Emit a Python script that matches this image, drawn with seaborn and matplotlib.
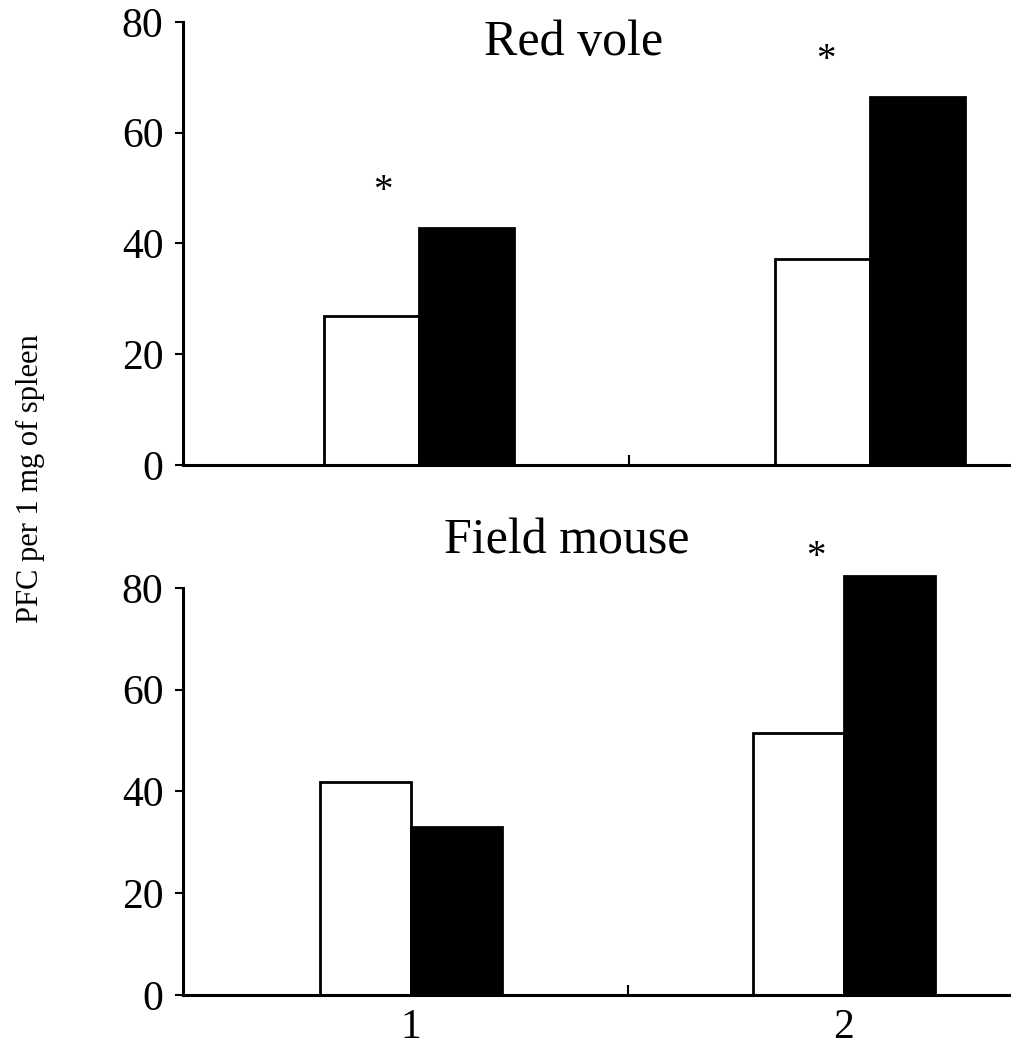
import matplotlib
matplotlib.use("Agg")
import matplotlib.pyplot as plt
import seaborn as sns
import pandas as pd

# ---- data ----
groups = ["1", "2"]
treatments = ["control", "treated"]
red_vole_control = [26.9, 37.2]
red_vole_treated = [42.8, 66.4]
field_mouse_control = [41.8, 51.5]
field_mouse_treated = [33.0, 82.3]
red_vole_sig = [True, True]
field_mouse_sig = [False, True]
y_ticks = [0, 20, 40, 60, 80]
titles = ["Red vole", "Field mouse"]
y_label = "PFC per 1 mg of spleen"

sns.set_theme(style="white")
plt.rcParams["font.family"] = ["Liberation Serif", "DejaVu Serif"]

W, H = 1011, 1049
fig = plt.figure(figsize=(W / 100, H / 100), dpi=100)

def make_df(ctrl, trt):
    rows = []
    for g, c, t in zip(groups, ctrl, trt):
        rows.append({"group": g, "treatment": treatments[0], "value": c})
        rows.append({"group": g, "treatment": treatments[1], "value": t})
    return pd.DataFrame(rows)

panels = [
    dict(ctrl=red_vole_control, trt=red_vole_treated, sig=red_vole_sig,
         y0=465, ppu=5.54, ytop=82, xlim=(-0.523, 1.313), labels=False,
         mid=0.465, star_dx=[-0.08, -0.098], star_off=41, title_x=574, title_base=55),
    dict(ctrl=field_mouse_control, trt=field_mouse_treated, sig=field_mouse_sig,
         y0=995, ppu=5.09, ytop=84, xlim=(-0.527, 1.386), labels=True,
         mid=0.5, star_dx=[-0.065, -0.065], star_off=23, title_x=567, title_base=553),
]

left_px = 183
for i, p in enumerate(panels):
    top_px = p["y0"] - p["ytop"] * p["ppu"]
    ax = fig.add_axes([left_px / W, (H - p["y0"]) / H,
                       (W - left_px) / W, (p["y0"] - top_px) / H])
    df = make_df(p["ctrl"], p["trt"])
    sns.barplot(data=df, x="group", y="value", hue="treatment",
                hue_order=treatments, order=groups,
                palette=["white", "black"], edgecolor="black", linewidth=2,
                width=0.42, errorbar=None, legend=False, ax=ax)
    ax.set_xlim(*p["xlim"])
    ax.set_ylim(0, p["ytop"])
    ax.set_xlabel("")
    ax.set_ylabel("")
    for s in ["top", "right"]:
        ax.spines[s].set_visible(False)
    ax.spines["left"].set_bounds(0, 80)
    for s in ["left", "bottom"]:
        ax.spines[s].set_linewidth(2.2)
        ax.spines[s].set_color("black")
    ax.set_yticks(y_ticks)
    ax.set_yticklabels([str(v) for v in y_ticks])
    ax.tick_params(axis="y", direction="out", length=6, width=1.5,
                   labelsize=30, pad=8, left=True, colors="black")
    # x axis: inward middle tick, group labels on bottom panel
    ax.set_xticks([p["mid"]])
    ax.set_xticklabels([""])
    ax.tick_params(axis="x", which="major", direction="in", length=7,
                   width=1.5, colors="black", bottom=True)
    ax.set_xticks([0, 1], minor=True)
    if p["labels"]:
        ax.set_xticklabels(groups, minor=True)
    else:
        ax.set_xticklabels(["", ""], minor=True)
    ax.tick_params(axis="x", which="minor", length=0, labelsize=30, pad=10,
                   colors="black")
    # significance stars
    for gi, (g, sig) in enumerate(zip(groups, p["sig"])):
        if sig:
            ax.annotate("*", xy=(gi + p["star_dx"][gi], p["trt"][gi]),
                        xytext=(0, p["star_off"] * 0.72 - 3), textcoords="offset points",
                        ha="center", va="center", fontsize=28, color="black")
    fig.text(p["title_x"] / W, 1 - p["title_base"] / H, titles[i],
             ha="center", va="baseline", fontsize=36, color="black")

fig.text(30 / W, 1 - 479 / H, y_label, rotation=90, ha="center", va="center",
         fontsize=22, color="black")

fig.savefig("out.png", dpi=100, facecolor="white")
